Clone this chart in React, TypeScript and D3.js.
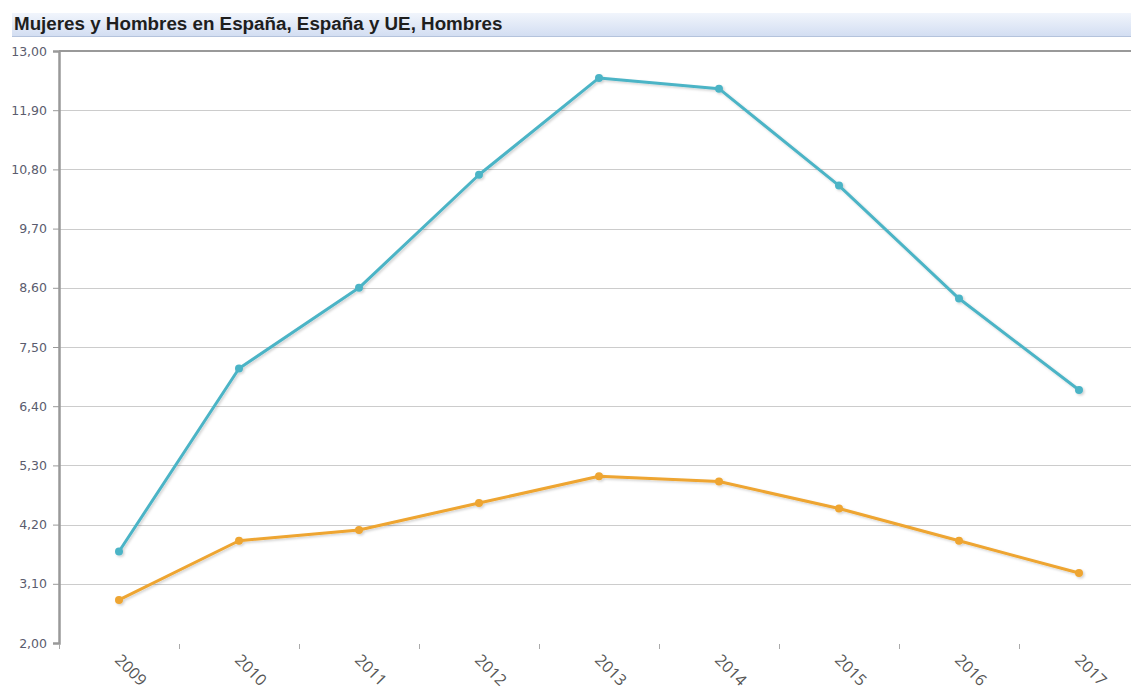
import * as d3 from "d3";
import { useEffect, useRef } from "react";

const years = ["2009", "2010", "2011", "2012", "2013", "2014", "2015", "2016", "2017"];
const seriesBlue = [3.7, 7.1, 8.6, 10.7, 12.5, 12.3, 10.5, 8.4, 6.7];
const seriesOrange = [2.8, 3.9, 4.1, 4.6, 5.1, 5.0, 4.5, 3.9, 3.3];
const yTicks = [2.0, 3.1, 4.2, 5.3, 6.4, 7.5, 8.6, 9.7, 10.8, 11.9, 13.0];
const title = "Mujeres y Hombres en España, España y UE, Hombres";

const W = 1131;
const H = 691;

export default function App() {
	const svgRef = useRef<SVGSVGElement>(null);

	useEffect(() => {
		if (!svgRef.current) return;
		const svg = d3.select(svgRef.current);
		svg.selectAll("*").remove();

		const margin = { left: 59, top: 51, bottom: 643 };
		const bandW = 120;

		const x = d3
			.scaleBand()
			.domain(years)
			.range([margin.left, margin.left + bandW * years.length]);
		const y = d3.scaleLinear().domain([2, 13]).range([margin.bottom, margin.top]);

		const defs = svg.append("defs");
		const grad = defs
			.append("linearGradient")
			.attr("id", "titleGrad")
			.attr("x1", 0)
			.attr("y1", 0)
			.attr("x2", 0)
			.attr("y2", 1);
		grad.append("stop").attr("offset", "0%").attr("stop-color", "#f1f5fc");
		grad.append("stop").attr("offset", "100%").attr("stop-color", "#d3def2");

		const shadow = defs.append("filter").attr("id", "shadow").attr("x", "-50%").attr("y", "-50%").attr("width", "200%").attr("height", "200%");
		shadow
			.append("feDropShadow")
			.attr("dx", 1.5)
			.attr("dy", 1.5)
			.attr("stdDeviation", 1.2)
			.attr("flood-color", "#000")
			.attr("flood-opacity", 0.18);

		// Title bar
		svg.append("rect")
			.attr("x", 12)
			.attr("y", 13)
			.attr("width", W - 12)
			.attr("height", 23)
			.attr("fill", "url(#titleGrad)");
		svg.append("line")
			.attr("x1", 12)
			.attr("x2", W)
			.attr("y1", 36.5)
			.attr("y2", 36.5)
			.attr("stroke", "#b4c3dc")
			.attr("stroke-width", 1);
		svg.append("text")
			.attr("x", 14)
			.attr("y", 29.5)
			.attr("font-family", "Liberation Sans, Arial, sans-serif")
			.attr("font-weight", "bold")
			.attr("font-size", 18.8)
			.attr("fill", "#1e1e1e")
			.text(title);

		// Grid lines
		svg.append("g")
			.selectAll("line")
			.data(yTicks.filter((t) => t > 2 && t < 13))
			.enter()
			.append("line")
			.attr("x1", margin.left)
			.attr("x2", W)
			.attr("y1", (d) => Math.round(y(d)) + 0.5)
			.attr("y2", (d) => Math.round(y(d)) + 0.5)
			.attr("stroke", "#cccccc")
			.attr("stroke-width", 1);

		// Top border
		svg.append("line")
			.attr("x1", margin.left)
			.attr("x2", W)
			.attr("y1", y(13))
			.attr("y2", y(13))
			.attr("stroke", "#999")
			.attr("stroke-width", 2);

		// Y axis
		const yAxis = svg
			.append("g")
			.attr("transform", `translate(${margin.left},0)`)
			.call(
				d3
					.axisLeft(y)
					.tickValues(yTicks)
					.tickSize(6)
					.tickPadding(6)
					.tickFormat((d) => d3.format(".2f")(d as number).replace(".", ",")),
			);
		yAxis.select(".domain").attr("stroke", "#999").attr("stroke-width", 2.5);
		yAxis.selectAll(".tick line").attr("stroke", "#999");
		yAxis
			.selectAll("text")
			.attr("font-family", "DejaVu Sans, sans-serif")
			.attr("font-size", 12.5)
			.attr("fill", "#5a5c6e");

		// X axis
		const xAxisG = svg.append("g").attr("transform", `translate(0,${margin.bottom})`);
		xAxisG
			.append("line")
			.attr("x1", margin.left - 2)
			.attr("x2", W)
			.attr("y1", 0)
			.attr("y2", 0)
			.attr("stroke", "#999")
			.attr("stroke-width", 3)
			.attr("filter", "url(#shadow)");
		xAxisG
			.selectAll(".bt")
			.data(years)
			.enter()
			.append("line")
			.attr("class", "bt")
			.attr("x1", (d) => (x(d) ?? 0) + 0.5)
			.attr("x2", (d) => (x(d) ?? 0) + 0.5)
			.attr("y1", 1)
			.attr("y2", 6)
			.attr("stroke", "#aaa")
			.attr("stroke-width", 1);
		xAxisG
			.selectAll(".xl")
			.data(years)
			.enter()
			.append("text")
			.attr("class", "xl")
			.attr(
				"transform",
				(d) => `translate(${(x(d) ?? 0) + x.bandwidth() / 2 - 5},${18}) rotate(45)`,
			)
			.attr("font-family", "Open Sans, sans-serif")
			.attr("font-size", 16)
			.attr("fill", "#555")
			.text((d) => d);

		// Series
		const cx = (i: number) => (x(years[i]) ?? 0) + x.bandwidth() / 2;
		const series = [
			{ values: seriesBlue, color: "#4cb4c6" },
			{ values: seriesOrange, color: "#eea530" },
		];
		const line = d3
			.line<number>()
			.x((_, i) => cx(i))
			.y((d) => y(d));

		series.forEach((s) => {
			const g = svg.append("g").attr("filter", "url(#shadow)");
			g.append("path")
				.attr("d", line(s.values))
				.attr("fill", "none")
				.attr("stroke", s.color)
				.attr("stroke-width", 3)
				.attr("stroke-linejoin", "round");
			g.selectAll("circle")
				.data(s.values)
				.enter()
				.append("circle")
				.attr("cx", (_, i) => cx(i))
				.attr("cy", (d) => y(d))
				.attr("r", 4)
				.attr("fill", s.color);
		});
	}, []);

	return (
		<svg
			ref={svgRef}
			width={W}
			height={H}
			style={{ position: "absolute", left: 0, top: 0, background: "#fff" }}
		/>
	);
}
